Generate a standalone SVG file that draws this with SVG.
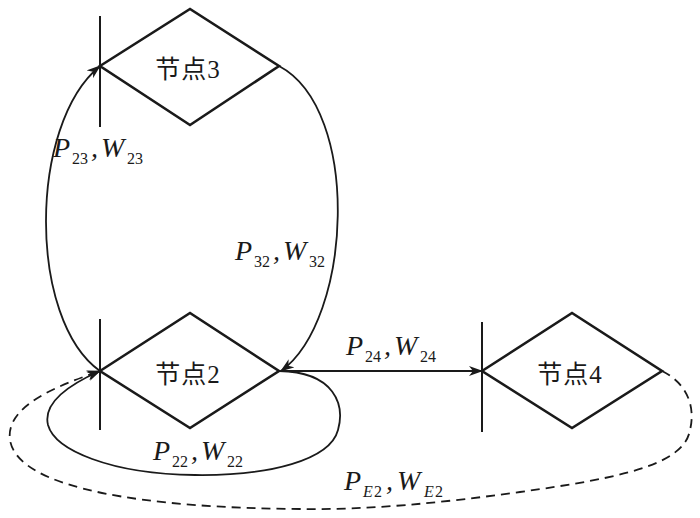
<svg xmlns="http://www.w3.org/2000/svg" width="700" height="518" viewBox="0 0 700 518">
<style>
.dia{fill:none;stroke:#1a1a1a;stroke-width:2.6;stroke-linejoin:miter}
.bar{stroke:#1a1a1a;stroke-width:2}
.edge{fill:none;stroke:#1a1a1a;stroke-width:1.8}
.dash{stroke-dasharray:9,6}
.cn{font-family:"Liberation Serif","Noto Sans CJK SC",serif;font-size:25px;fill:#1a1a1a;text-anchor:middle;letter-spacing:1px}
.v{font-family:"Liberation Serif",serif;font-style:italic;font-size:28px;fill:#1a1a1a}
.s{font-family:"Liberation Serif",serif;font-size:16px;fill:#1a1a1a}
.si{font-family:"Liberation Serif",serif;font-style:italic;font-size:16px;fill:#1a1a1a}
</style>
<defs>
<marker id="ah" markerUnits="userSpaceOnUse" viewBox="0 0 14 10" refX="13" refY="5" markerWidth="14" markerHeight="10" orient="auto">
<path d="M0,0 L14,5 L0,10 L4,5 z" fill="#1a1a1a"/>
</marker>
</defs>
<g id="node3">
<polygon class="dia" points="100,66 190,9 279,66 190,125"/>
<line class="bar" x1="100" y1="16" x2="100" y2="127"/>
<text class="cn" x="188" y="78">节点3</text>
</g>
<g id="node2">
<polygon class="dia" points="100,371 190,313 279,371 190,428"/>
<line class="bar" x1="100" y1="319" x2="100" y2="430"/>
<text class="cn" x="188" y="383">节点2</text>
</g>
<g id="node4">
<polygon class="dia" points="482,371 572,313 662,371 572,428"/>
<line class="bar" x1="482" y1="322" x2="482" y2="432"/>
<text class="cn" x="570" y="383">节点4</text>
</g>
<g id="connectors">
<path class="edge" d="M100,371 C28,320 28,125 100,66" marker-end="url(#ah)"/>
<path class="edge" d="M279,66 C362,110 352,320 281,371" marker-end="url(#ah)"/>
<path class="edge" d="M281,371 L482,371" marker-end="url(#ah)"/>
<path class="edge" d="M279,371 C335,372 345,405 338,430 C330,460 270,476 195,475 C110,474 55,450 48,425 C42,400 75,382 100,371" marker-end="url(#ah)"/>
<path class="edge dash" d="M662,371 C690,385 695,410 690,430 C684,465 620,478 520,492 C440,503 370,510 300,509 C150,508 18,490 10,440 C5,405 60,385 100,371" marker-end="url(#ah)"/>
</g>
<g id="labels">
<text class="v" x="53" y="157">P</text><text class="s" x="72" y="164">23</text><text class="v" x="91" y="157">,</text><text class="v" x="101" y="157">W</text><text class="s" x="127" y="164">23</text>
<text class="v" x="235" y="260">P</text><text class="s" x="254" y="267">32</text><text class="v" x="273" y="260">,</text><text class="v" x="283" y="260">W</text><text class="s" x="309" y="267">32</text>
<text class="v" x="346" y="355">P</text><text class="s" x="365" y="362">24</text><text class="v" x="384" y="355">,</text><text class="v" x="394" y="355">W</text><text class="s" x="420" y="362">24</text>
<text class="v" x="153" y="460">P</text><text class="s" x="172" y="467">22</text><text class="v" x="191" y="460">,</text><text class="v" x="201" y="460">W</text><text class="s" x="227" y="467">22</text>
<text class="v" x="344" y="490">P</text><text class="si" x="363" y="497">E</text><text class="s" x="374" y="497">2</text><text class="v" x="386" y="490">,</text><text class="v" x="397" y="490">W</text><text class="si" x="424" y="497">E</text><text class="s" x="435" y="497">2</text>
</g>
</svg>
